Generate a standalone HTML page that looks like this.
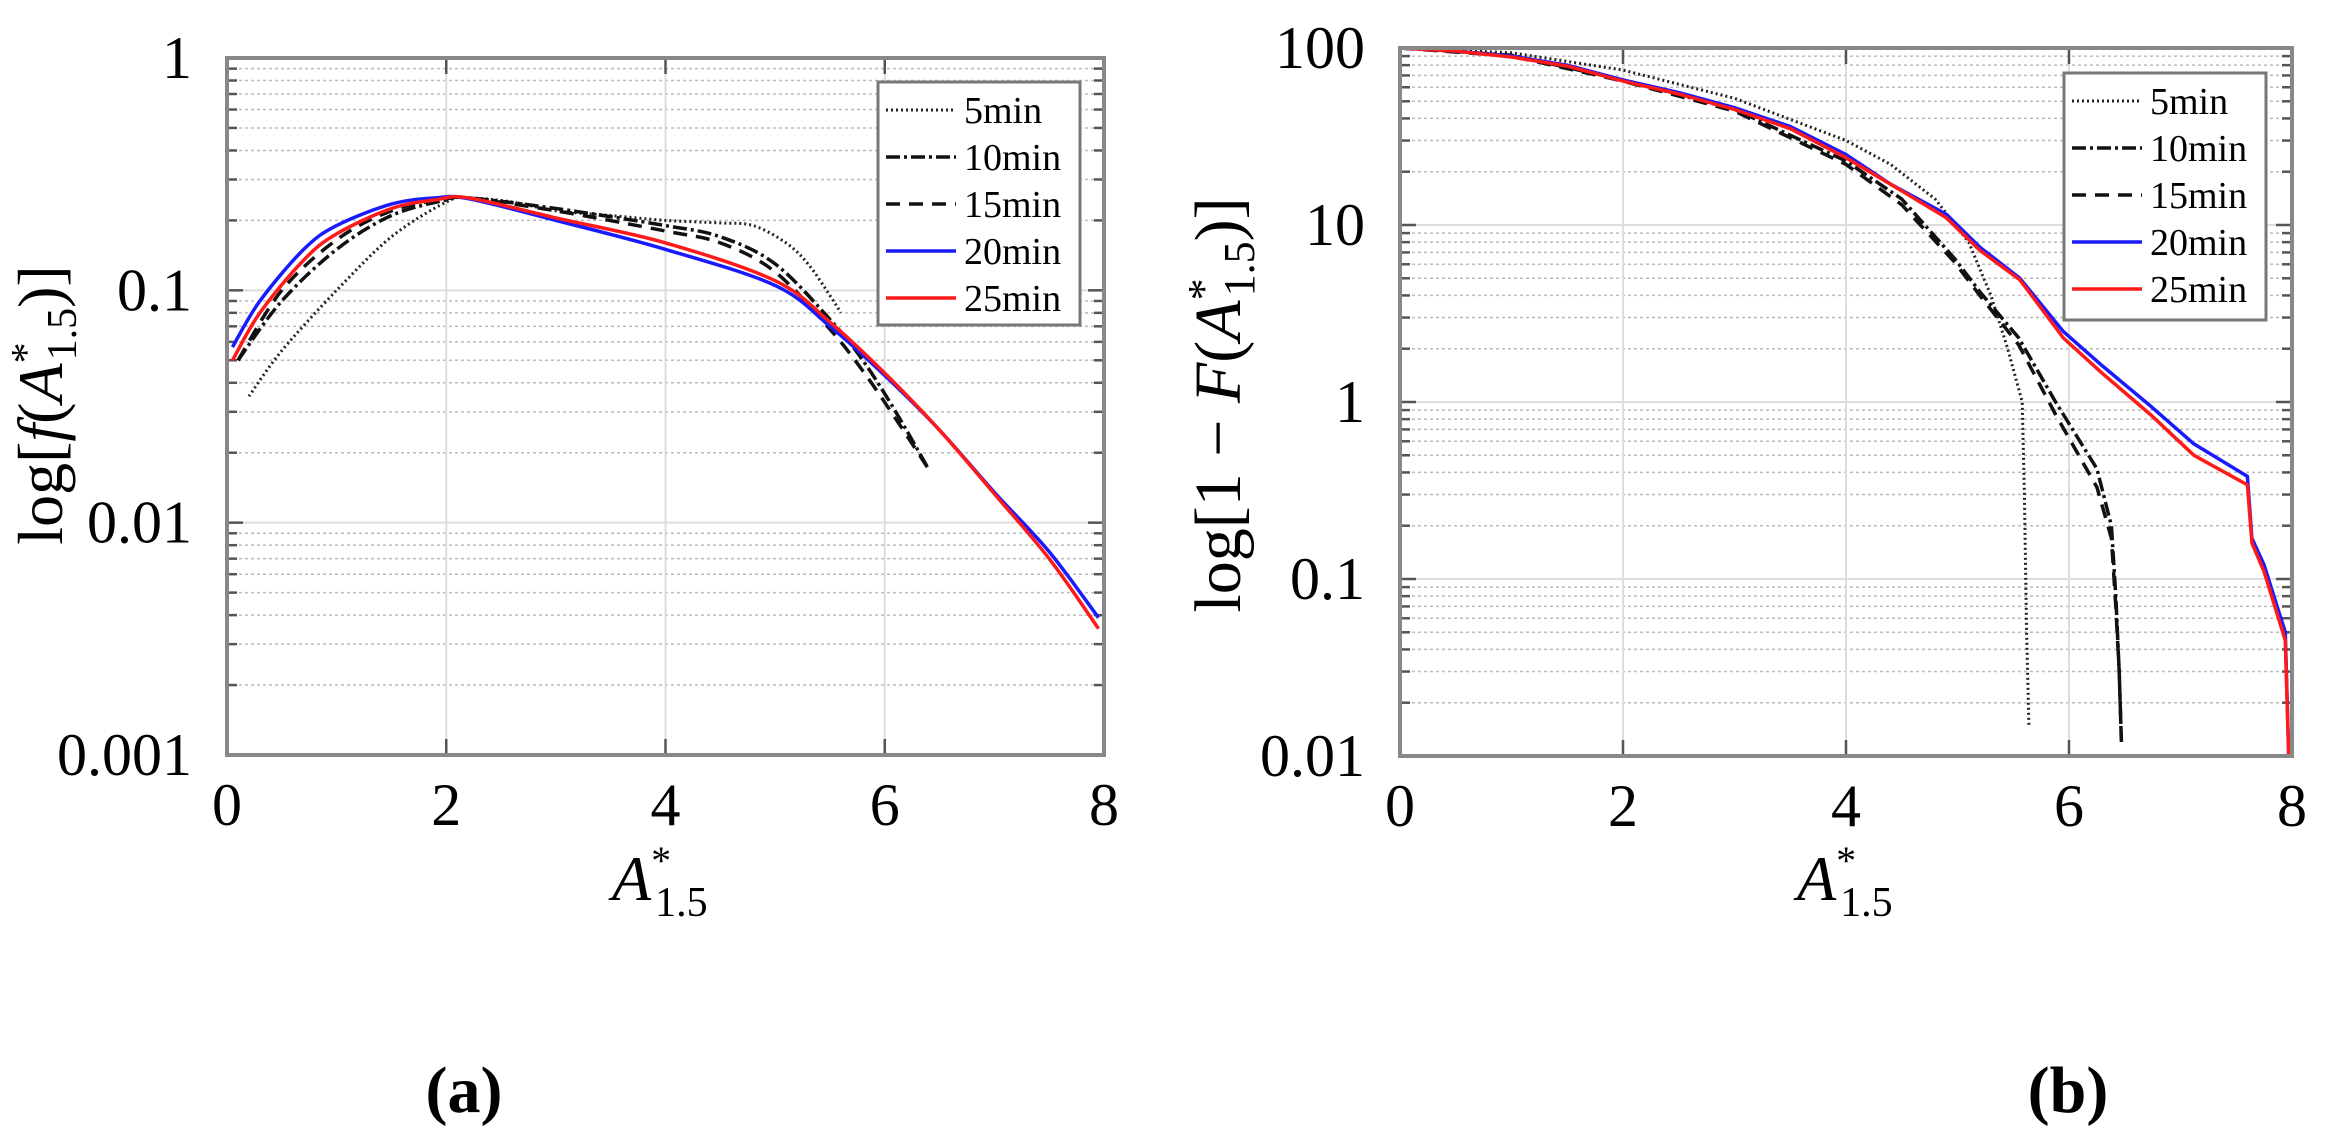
<!DOCTYPE html>
<html><head><meta charset="utf-8"><style>
html,body{margin:0;padding:0;background:#fff;}
svg{display:block;font-family:"Liberation Serif",serif;}
</style></head><body>
<svg id="fig" width="2345" height="1144" viewBox="0 0 2345 1144" xmlns="http://www.w3.org/2000/svg">
<g id="ga"></g>
<g id="gb"></g>
<text x="464" y="1112" font-size="66" font-weight="bold" text-anchor="middle">(a)</text>
<text x="2068" y="1112" font-size="66" font-weight="bold" text-anchor="middle">(b)</text>
<text transform="translate(62,405) rotate(-90)" font-size="64" text-anchor="middle">log[<tspan font-style="italic">f</tspan>(<tspan font-style="italic">A</tspan><tspan font-size="42" dy="-22">*</tspan><tspan font-size="42" dx="-18" dy="36">1.5</tspan><tspan dy="-14">)]</tspan></text>
<text transform="translate(1240,405) rotate(-90)" font-size="66" text-anchor="middle">log[1 − <tspan font-style="italic">F</tspan>(<tspan font-style="italic">A</tspan><tspan font-size="44" dy="-22">*</tspan><tspan font-size="44" dx="-18" dy="36">1.5</tspan><tspan dy="-14">)]</tspan></text>
<text x="612" y="900" font-size="64" font-style="italic">A<tspan font-size="40" font-style="normal" dy="-26">*</tspan><tspan font-size="42" font-style="normal" dx="-16" dy="42">1.5</tspan></text>
<text x="1797" y="900" font-size="64" font-style="italic">A<tspan font-size="40" font-style="normal" dy="-26">*</tspan><tspan font-size="42" font-style="normal" dx="-16" dy="42">1.5</tspan></text>
</svg>
<script>
// ---- Panel (a) data ----
const ax5 = [0.2,0.5,1,1.5,2,2.2,2.6,3,3.5,4,4.5,4.8,5.1,5.3,5.5,5.6];
const ay5 = [0.035,0.055,0.1,0.17,0.24,0.25,0.24,0.22,0.21,0.2,0.195,0.19,0.16,0.13,0.095,0.08];
const ax10 = [0.1,0.5,1,1.5,2,2.2,3,4,4.5,5,5.5,5.8,6.1,6.4];
const ay10 = [0.05,0.09,0.15,0.21,0.245,0.25,0.225,0.19,0.17,0.13,0.075,0.05,0.03,0.017];
const ax15 = [0.1,0.5,1,1.5,2,2.2,3,4,4.5,5,5.5,5.8,6.1,6.4];
const ay15 = [0.05,0.1,0.165,0.22,0.248,0.25,0.22,0.18,0.16,0.12,0.068,0.045,0.028,0.017];
const ax20 = [0.05,0.3,0.7,1,1.5,1.9,2.2,3,4,5,5.5,6,6.5,7,7.5,7.95];
const ay20 = [0.057,0.09,0.15,0.19,0.235,0.25,0.248,0.2,0.15,0.105,0.07,0.043,0.025,0.0135,0.0075,0.0039];
const ax25 = [0.05,0.3,0.7,1,1.5,1.9,2.2,3,4,5,5.5,6,6.5,7,7.5,7.95];
const ay25 = [0.05,0.08,0.135,0.175,0.225,0.245,0.25,0.205,0.16,0.11,0.073,0.044,0.025,0.0133,0.007,0.0035];
const aYTicks = ["1","0.1","0.01","0.001"];
const xTicks = ["0","2","4","6","8"];
// ---- Panel (b) data ----
const bx5 = [0,1,2,3,4,4.4,4.8,5.1,5.3,5.45,5.58,5.6,5.62,5.64];
const by5 = [100,94,75,52,30,22,14,8,4,2,1,0.3,0.05,0.015];
const bx10 = [0,1,2,3,4,4.5,4.97,5.2,5.55,5.88,6.25,6.38,6.42,6.45,6.47];
const by10 = [100,91,66,45,23,14,6.5,4.2,2.3,1.0,0.42,0.2,0.08,0.03,0.012];
const bx15 = [0,1,2,3,4,4.5,4.97,5.2,5.55,5.88,6.25,6.38,6.42,6.45,6.47];
const by15 = [100,90,65,44,22,13,6.2,4,2.1,0.85,0.33,0.17,0.07,0.03,0.012];
const bx20 = [0,0.5,1,1.5,2,2.5,3,3.5,4,4.4,4.9,5.2,5.56,5.95,6.3,6.73,7.12,7.6,7.64,7.75,7.94,7.97];
const by20 = [100,96,90,80,66,56,46,36,25,17,11.5,7.5,5.0,2.5,1.6,0.95,0.58,0.38,0.17,0.12,0.05,0.01];
const bx25 = [0,0.5,1,1.5,2,2.5,3,3.5,4,4.4,4.9,5.2,5.56,5.95,6.3,6.73,7.12,7.6,7.64,7.75,7.94,7.97];
const by25 = [100,96,89,79,65,55,45,35,24,17,11,7.2,4.9,2.3,1.45,0.85,0.5,0.34,0.16,0.11,0.045,0.01];
const bYTicks = ["100","10","1","0.1","0.01"];
const legendLabels = ["5min","10min","15min","20min","25min"];

const NS="http://www.w3.org/2000/svg";
function mk(parent,tag,attrs,text){const e=document.createElementNS(NS,tag);for(const k in attrs)e.setAttribute(k,attrs[k]);if(text!==undefined)e.textContent=text;parent.appendChild(e);return e;}
const styles=[
 {stroke:"#222",w:3,dash:"2,3"},
 {stroke:"#111",w:3.5,dash:"14,4,3,4"},
 {stroke:"#111",w:3.5,dash:"14,9"},
 {stroke:"#1a1aff",w:3.5,dash:""},
 {stroke:"#ff1a1a",w:3.5,dash:""}];

function pathFrom(pts,smooth){
  if(!smooth){return pts.map((p,j)=>(j?"L":"M")+p[0].toFixed(1)+","+p[1].toFixed(1)).join("");}
  let d="M"+pts[0][0].toFixed(1)+","+pts[0][1].toFixed(1);
  for(let i=0;i<pts.length-1;i++){
    const p0=pts[Math.max(0,i-1)],p1=pts[i],p2=pts[i+1],p3=pts[Math.min(pts.length-1,i+2)];
    const c1=[p1[0]+(p2[0]-p0[0])/6,p1[1]+(p2[1]-p0[1])/6];
    const c2=[p2[0]-(p3[0]-p1[0])/6,p2[1]-(p3[1]-p1[1])/6];
    d+="C"+c1[0].toFixed(1)+","+c1[1].toFixed(1)+" "+c2[0].toFixed(1)+","+c2[1].toFixed(1)+" "+p2[0].toFixed(1)+","+p2[1].toFixed(1);
  }
  return d;
}

function drawPanel(g,o){
  const X=v=>o.x0+(v-o.xmin)/(o.xmax-o.xmin)*(o.x1-o.x0);
  const Y=v=>o.y0+(Math.log10(o.ymax)-Math.log10(v))/(Math.log10(o.ymax)-Math.log10(o.ymin))*(o.y1-o.y0);
  const dec0=Math.log10(o.ymin),dec1=Math.log10(o.ymax);
  for(let d=dec0;d<dec1;d++){
    for(let m=2;m<=9;m++){const yy=Y(m*Math.pow(10,d));
      const l=mk(g,"line",{x1:o.x0,x2:o.x1,y1:yy,y2:yy,stroke:"#bbb","stroke-width":1.5,"stroke-dasharray":"3,3"});
      
      
      mk(g,"line",{x1:o.x0,x2:o.x0+10,y1:yy,y2:yy,stroke:"#555","stroke-width":2.5});
      mk(g,"line",{x1:o.x1,x2:o.x1-10,y1:yy,y2:yy,stroke:"#555","stroke-width":2.5});
    }
  }
  for(let d=dec0;d<=dec1;d++){const yy=Y(Math.pow(10,d));
    const l=mk(g,"line",{x1:o.x0,x2:o.x1,y1:yy,y2:yy,stroke:"#ddd","stroke-width":2});
    
    
    mk(g,"line",{x1:o.x0,x2:o.x0+16,y1:yy,y2:yy,stroke:"#555","stroke-width":2.5});
    mk(g,"line",{x1:o.x1,x2:o.x1-16,y1:yy,y2:yy,stroke:"#555","stroke-width":2.5});
  }
  o.yTicks.forEach((t,i)=>{const yy=Y(o.ymax/Math.pow(10,i));
    const tx=mk(g,"text",{x:o.x0-35,y:yy+20,"font-size":60,"text-anchor":"end"},t);
    
    });
  xTicks.forEach(t=>{const v=+t,xx=X(v);
    if(v>o.xmin&&v<o.xmax){mk(g,"line",{x1:xx,x2:xx,y1:o.y0,y2:o.y1,stroke:"#ddd","stroke-width":2});
      mk(g,"line",{x1:xx,x2:xx,y1:o.y0,y2:o.y0+16,stroke:"#555","stroke-width":2.5});
      mk(g,"line",{x1:xx,x2:xx,y1:o.y1,y2:o.y1-16,stroke:"#555","stroke-width":2.5});}
    const tx=mk(g,"text",{x:xx,y:o.y1+70,"font-size":60,"text-anchor":"middle"},t);
    
    });
  o.series.forEach((s,i)=>{const st=styles[i];
    const pts=s[0].map((xv,j)=>[X(xv),Y(s[1][j])]);
    const p=mk(g,"path",{d:pathFrom(pts,o.smooth),fill:"none",stroke:st.stroke,"stroke-width":st.w,"stroke-linejoin":"round"});
    if(st.dash)p.setAttribute("stroke-dasharray",st.dash);
    
    });
  const fr=mk(g,"rect",{x:o.x0,y:o.y0,width:o.x1-o.x0,height:o.y1-o.y0,fill:"none",stroke:"#888","stroke-width":4});
  
  
  const L=o.leg;
  const lg=mk(g,"g",{});
  
  
  mk(lg,"rect",{x:L.x,y:L.y,width:L.w,height:L.h,fill:"#fff",stroke:"#777","stroke-width":3});
  legendLabels.forEach((lab,i)=>{const st=styles[i],yy=L.y+28+i*47;
    const e=mk(lg,"g",{});
    
    
    const ln=mk(e,"line",{x1:L.x+8,x2:L.x+78,y1:yy,y2:yy,stroke:st.stroke,"stroke-width":st.w});
    if(st.dash)ln.setAttribute("stroke-dasharray",st.dash);
    mk(e,"text",{x:L.x+86,y:yy+13,"font-size":38},lab);});
}
drawPanel(document.getElementById("ga"),{x0:227,x1:1104,y0:58,y1:755,xmin:0,xmax:8,ymin:0.001,ymax:1,yTicks:aYTicks,smooth:true,
  series:[[ax5,ay5],[ax10,ay10],[ax15,ay15],[ax20,ay20],[ax25,ay25]],leg:{x:878,y:82,w:202,h:243}});
drawPanel(document.getElementById("gb"),{x0:1400,x1:2292,y0:48,y1:756,xmin:0,xmax:8,ymin:0.01,ymax:100,yTicks:bYTicks,smooth:false,
  series:[[bx5,by5],[bx10,by10],[bx15,by15],[bx20,by20],[bx25,by25]],leg:{x:2064,y:73,w:202,h:247}});
</script>
</body></html>
